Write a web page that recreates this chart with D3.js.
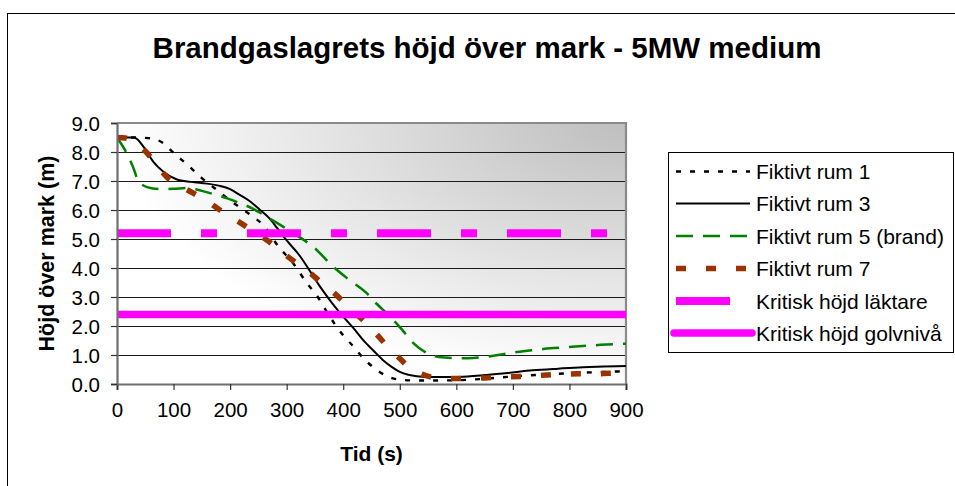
<!DOCTYPE html>
<html>
<head>
<meta charset="utf-8">
<script src="https://cdn.jsdelivr.net/npm/d3@7"></script>
<style>
  html, body { margin: 0; padding: 0; background: #fff; }
  svg { display: block; font-family: "Liberation Sans", Arial, sans-serif; }
</style>
</head>
<body>
<svg id="chart" width="955" height="486"></svg>
<script>
// Smoke layer height above ground (m) against time (s)
const title = "Brandgaslagrets höjd över mark - 5MW medium";
const xTitle = "Tid (s)";
const yTitle = "Höjd över mark (m)";

const xTicks = [0, 100, 200, 300, 400, 500, 600, 700, 800, 900];
const yTicks = [0, 1, 2, 3, 4, 5, 6, 7, 8, 9];

const rum1T = [0, 30, 55, 80, 100, 125, 150, 175, 200, 220, 240, 260, 285, 310, 335, 355, 370, 385, 400, 420, 435, 455, 480, 505, 530, 560, 600, 650, 700, 750, 800, 850, 900];
const rum1H = [8.5, 8.5, 8.48, 8.33, 7.97, 7.55, 7.1, 6.72, 6.33, 6.05, 5.78, 5.45, 4.75, 4.2, 3.5, 3.0, 2.52, 2.07, 1.68, 1.25, 0.9, 0.55, 0.25, 0.14, 0.12, 0.12, 0.13, 0.18, 0.26, 0.32, 0.37, 0.41, 0.44];

const rum3T = [0, 30, 47, 64, 82, 105, 130, 150, 180, 200, 217, 235, 253, 270, 283, 300, 320, 359, 380, 400, 420, 435, 455, 470, 485, 500, 515, 530, 560, 583, 620, 647, 690, 735, 780, 824, 860, 900];
const rum3H = [8.5, 8.5, 8.18, 7.67, 7.32, 7.06, 6.97, 6.93, 6.84, 6.72, 6.52, 6.3, 6.0, 5.7, 5.38, 4.95, 4.5, 3.36, 2.8, 2.32, 1.88, 1.52, 1.12, 0.83, 0.6, 0.42, 0.32, 0.27, 0.24, 0.24, 0.26, 0.3, 0.38, 0.47, 0.53, 0.58, 0.6, 0.62];

const rum5T = [0, 14, 29, 37, 53, 76, 100, 123, 150, 170, 195, 217, 240, 259, 294, 320, 347, 382, 410, 441, 460, 483, 505, 524, 545, 559, 580, 606, 630, 654, 680, 707, 737, 766, 795, 824, 855, 886, 900];
const rum5H = [8.5, 8.07, 7.45, 7.03, 6.79, 6.72, 6.73, 6.76, 6.66, 6.55, 6.4, 6.24, 6.05, 5.83, 5.42, 5.1, 4.73, 4.05, 3.6, 3.14, 2.75, 2.32, 1.85, 1.41, 1.1, 0.97, 0.91, 0.89, 0.9, 0.94, 1.02, 1.1, 1.17, 1.23, 1.27, 1.31, 1.35, 1.38, 1.39];

const rum7T = [0, 15, 30, 53, 70, 88, 110, 135, 160, 182, 205, 229, 255, 277, 298, 318, 340, 362, 383, 403, 424, 444, 462, 479, 500, 518, 540, 571, 600, 624, 650, 681, 710, 735, 760, 789, 815, 842, 870, 900];
const rum7H = [8.5, 8.48, 8.35, 7.97, 7.55, 7.14, 6.85, 6.58, 6.3, 6.0, 5.72, 5.42, 5.1, 4.79, 4.45, 4.16, 3.85, 3.48, 3.15, 2.79, 2.4, 2.03, 1.65, 1.28, 0.88, 0.55, 0.33, 0.2, 0.19, 0.2, 0.21, 0.24, 0.26, 0.28, 0.31, 0.34, 0.35, 0.35, 0.37, 0.39];

// Critical heights (constant over the whole time span)
const kritiskT = [0, 900];
const kritiskLaktare = 5.2;
const kritiskGolv = 2.4;

const seriesNames = ["Fiktivt rum 1", "Fiktivt rum 3", "Fiktivt rum 5 (brand)", "Fiktivt rum 7", "Kritisk höjd läktare", "Kritisk höjd golvnivå"];

const styles = [
  { color: "#000000", width: 2.4, dash: "5,9", cap: "butt" },
  { color: "#000000", width: 2, dash: null, cap: "butt" },
  { color: "#008000", width: 2.5, dash: "17,10", cap: "butt" },
  { color: "#993300", width: 5.5, dash: "10,20", cap: "butt" },
  { color: "#ff00ff", width: 8, dash: "54,30,16,30", cap: "butt" },
  { color: "#ff00ff", width: 7.5, dash: null, cap: "round" }
];

const seriesData = [
  rum1T.map((t, i) => [t, rum1H[i]]),
  rum3T.map((t, i) => [t, rum3H[i]]),
  rum5T.map((t, i) => [t, rum5H[i]]),
  rum7T.map((t, i) => [t, rum7H[i]]),
  kritiskT.map(t => [t, kritiskLaktare]),
  kritiskT.map(t => [t, kritiskGolv])
];

const svg = d3.select("#chart");
const plot = { left: 117, right: 626, top: 123, bottom: 384 };

const x = d3.scaleLinear().domain([0, 900]).range([plot.left, plot.right]);
const y = d3.scaleLinear().domain([0, 9]).range([plot.bottom, plot.top]);

// Outer chart frame
svg.append("rect")
  .attr("x", 7.5).attr("y", 13.5)
  .attr("width", 960).attr("height", 500)
  .attr("fill", "#fff").attr("stroke", "#000").attr("stroke-width", 1);

// Plot area background: shaded towards the upper-right corner
const defs = svg.append("defs");
const grad = defs.append("radialGradient")
  .attr("id", "plotBg")
  .attr("cx", 1).attr("cy", 0).attr("r", 1.0)
  .attr("fx", 1).attr("fy", 0);
grad.append("stop").attr("offset", "0%").attr("stop-color", "#bebebe");
grad.append("stop").attr("offset", "100%").attr("stop-color", "#ffffff");

defs.append("clipPath").attr("id", "plotClip")
  .append("rect")
  .attr("x", plot.left).attr("y", plot.top - 6)
  .attr("width", plot.right - plot.left).attr("height", plot.bottom - plot.top + 6);

svg.append("rect")
  .attr("x", plot.left).attr("y", plot.top)
  .attr("width", plot.right - plot.left).attr("height", plot.bottom - plot.top)
  .attr("fill", "url(#plotBg)");

// Horizontal gridlines
svg.append("g")
  .selectAll("line")
  .data(yTicks.filter(v => v > 0 && v < 9))
  .join("line")
  .attr("x1", plot.left).attr("x2", plot.right)
  .attr("y1", d => Math.round(y(d)) + 0.5).attr("y2", d => Math.round(y(d)) + 0.5)
  .attr("stroke", "#1a1a1a").attr("stroke-width", 1);

// Plot border (top and right)
svg.append("path")
  .attr("d", `M${plot.left},${plot.top}H${plot.right}V${plot.bottom}`)
  .attr("fill", "none").attr("stroke", "#8a8a8a").attr("stroke-width", 2.2);

// Series lines
const line = d3.line()
  .x(d => x(d[0]))
  .y(d => y(d[1]))
  .curve(d3.curveMonotoneX);

const linesG = svg.append("g").attr("clip-path", "url(#plotClip)");
seriesData.forEach((data, i) => {
  const s = styles[i];
  linesG.append("path")
    .datum(data)
    .attr("d", line)
    .attr("fill", "none")
    .attr("stroke", s.color)
    .attr("stroke-width", s.width)
    .attr("stroke-dasharray", s.dash)
    .attr("stroke-linecap", i === 5 ? "butt" : s.cap)
    .attr("stroke-linejoin", "round");
});

// Axes
const xAxis = d3.axisBottom(x).tickValues(xTicks).tickSize(6).tickPadding(12).tickFormat(d3.format("d"));
const yAxis = d3.axisLeft(y).tickValues(yTicks).tickSize(6).tickPadding(11).tickFormat(d3.format(".1f"));

const gx = svg.append("g").attr("transform", `translate(0,${plot.bottom})`).call(xAxis);
const gy = svg.append("g").attr("transform", `translate(${plot.left},0)`).call(yAxis);

[gx, gy].forEach(g => {
  g.select(".domain").attr("stroke", "#6e6e6e").attr("stroke-width", 2.2);
  g.selectAll(".tick line").attr("stroke", "#333").attr("stroke-width", 1.2);
  g.selectAll(".tick text")
    .attr("fill", "#000")
    .style("font-family", "'Liberation Sans', Arial, sans-serif")
    .style("font-size", "20.5px");
});
gy.selectAll(".tick text").attr("dy", "0.36em");
gx.selectAll(".tick text").attr("dy", "0.71em");

// Titles
svg.append("text")
  .attr("x", 487).attr("y", 58)
  .attr("text-anchor", "middle")
  .style("font-size", "29.5px").style("font-weight", "bold")
  .text(title);

svg.append("text")
  .attr("x", 371.5).attr("y", 461)
  .attr("text-anchor", "middle")
  .style("font-size", "21px").style("font-weight", "bold")
  .text(xTitle);

svg.append("text")
  .attr("transform", `translate(54,${(plot.top + plot.bottom) / 2}) rotate(-90)`)
  .attr("text-anchor", "middle")
  .style("font-size", "21.5px").style("font-weight", "bold")
  .text(yTitle);

// Legend
const legend = svg.append("g");
legend.append("rect")
  .attr("x", 668.5).attr("y", 152.5)
  .attr("width", 285).attr("height", 200)
  .attr("fill", "#fff").attr("stroke", "#000").attr("stroke-width", 1);

const legendRows = [171.5, 203.5, 236, 268.5, 301, 333];
seriesNames.forEach((name, i) => {
  const s = styles[i];
  const yy = legendRows[i];
  const x1 = i === 5 ? 674 : 676;
  const x2 = i === 4 ? 730 : (i === 5 ? 752 : 750);
  legend.append("line")
    .attr("x1", x1).attr("x2", x2)
    .attr("y1", yy).attr("y2", yy)
    .attr("stroke", s.color)
    .attr("stroke-width", s.width)
    .attr("stroke-dasharray", s.dash)
    .attr("stroke-linecap", s.cap);
  legend.append("text")
    .attr("x", 756).attr("y", yy)
    .attr("dy", "0.36em")
    .style("font-size", "21px")
    .text(name);
});
</script>
</body>
</html>
